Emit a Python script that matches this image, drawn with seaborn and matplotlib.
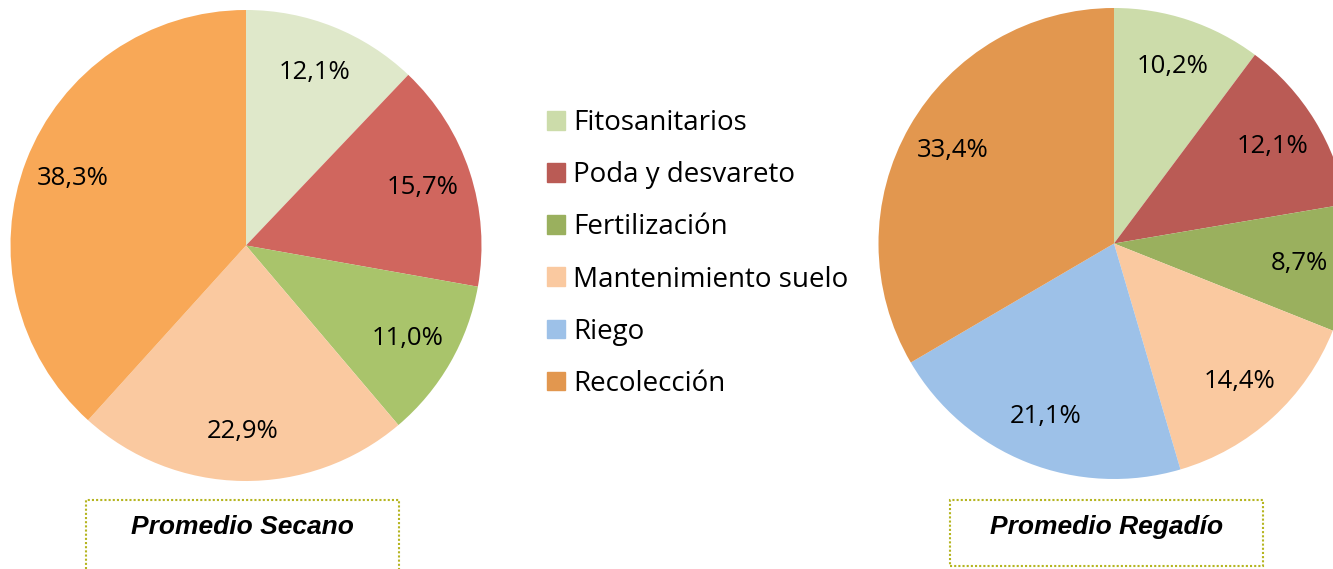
import numpy as np
import matplotlib.pyplot as plt
import matplotlib.patches as mpatches
import seaborn as sns

# datos
categorias = ['Fitosanitarios', 'Poda y desvareto', 'Fertilización',
              'Mantenimiento suelo', 'Riego', 'Recolección']
secano_cat = ['Fitosanitarios', 'Poda y desvareto', 'Fertilización',
              'Mantenimiento suelo', 'Recolección']
secano_val = [12.1, 15.7, 11.0, 22.9, 38.3]
regadio_val = [10.2, 12.1, 8.7, 14.4, 21.1, 33.4]

colores_secano = ['#DFE8CA', '#D0665E', '#A9C46B', '#FAC9A0', '#F8A857']
colores_regadio = ['#CCDCAA', '#BA5B55', '#9AB05E', '#FAC9A0', '#9DC1E8', '#E2974F']

sns.set_style('white')
plt.rcParams['font.family'] = ['Open Sans', 'DejaVu Sans']

W, H = 1333, 569
fig = plt.figure(figsize=(W / 100, H / 100), dpi=100)


def eje(cx, cy, r):
    ax = fig.add_axes([(cx - r) / W, (H - cy - r) / H, 2 * r / W, 2 * r / H])
    return ax


def coma(p):
    return ('%.1f%%' % p).replace('.', ',')


def dibuja(ax, valores, colores):
    ax.pie(valores, colors=colores, startangle=90, counterclock=False,
           autopct=coma, pctdistance=0.79, radius=1,
           textprops={'fontsize': 18.5, 'color': 'black'},
           wedgeprops={'linewidth': 0})
    ax.set_xlim(-1, 1)
    ax.set_ylim(-1, 1)
    ax.set_aspect('equal')
    ax.axis('off')


ax1 = eje(246, 245.5, 235.5)
dibuja(ax1, secano_val, colores_secano)
ax2 = eje(1114, 243.5, 235.5)
dibuja(ax2, regadio_val, colores_regadio)

# leyenda
handles = [mpatches.Patch(color=c, label=l) for c, l in zip(colores_regadio, categorias)]
fig.legend(handles=handles, loc='upper left', bbox_to_anchor=(547 / W, 1 - 109 / H),
           frameon=False, fontsize=20, labelcolor='black',
           handlelength=0.65, handleheight=0.65,
           handletextpad=0.3, labelspacing=0.87, borderaxespad=0, borderpad=0)

# cajas de titulo
for x0, x1, y0, y1, txt in [(86, 399, 500, 572, 'Promedio Secano'),
                            (950, 1263, 500, 566, 'Promedio Regadío')]:
    rect = mpatches.Rectangle((x0 / W, 1 - y1 / H), (x1 - x0) / W, (y1 - y0) / H,
                              transform=fig.transFigure, fill=False,
                              edgecolor='#B5B520', linestyle=(0, (1, 1)), linewidth=1.5)
    fig.patches.append(rect)
    fig.text((x0 + x1) / 2 / W, 1 - 527 / H, txt, ha='center', va='center',
             fontsize=19, fontweight='bold', fontstyle='italic', color='black',
             family=['Liberation Sans', 'DejaVu Sans'])

plt.savefig('out.png', dpi=100)
